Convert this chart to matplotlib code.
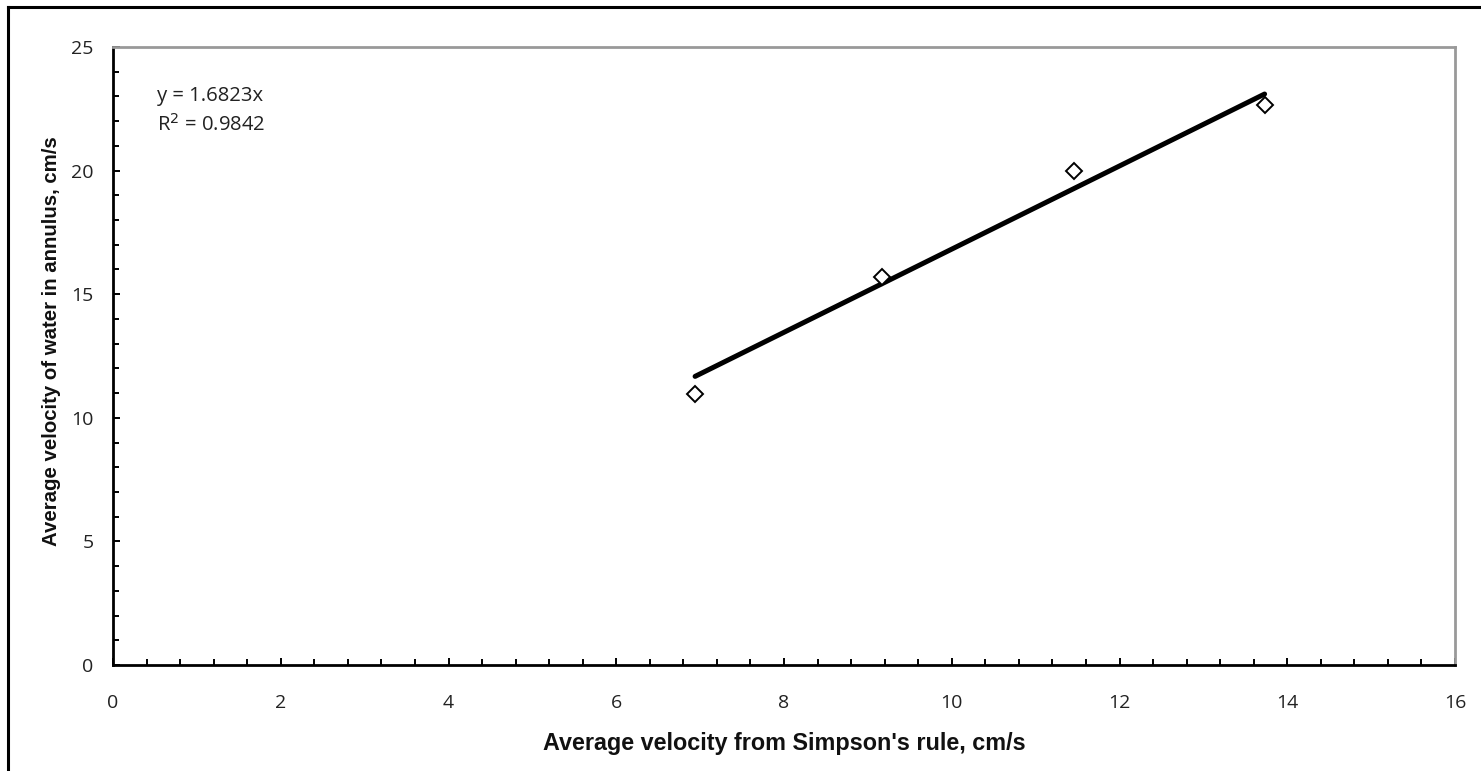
import matplotlib.pyplot as plt
from matplotlib.lines import Line2D
from matplotlib.ticker import MultipleLocator

simpson_v = [6.94, 9.17, 11.46, 13.73]
annulus_v = [10.98, 15.70, 19.97, 22.66]

# Excel trendline (forced through origin)
slope = 1.6823
r_squared = 0.9842

W, H = 1481, 771
fig = plt.figure(figsize=(W / 100, H / 100), dpi=100)
ax = fig.add_axes([113 / W, 1 - 665 / H, (1455 - 113) / W, (665 - 47) / H])

x_fit = [min(simpson_v), max(simpson_v)]
y_fit = [slope * v for v in x_fit]
ax.plot(x_fit, y_fit, color='black', lw=3.6, solid_capstyle='round', zorder=2)
ax.plot(simpson_v, annulus_v, ls='none', marker='D', ms=8.5, mfc='white',
        mec='black', mew=1.4, zorder=3)

ax.set_xlim(0, 16)
ax.set_ylim(0, 25)
ax.xaxis.set_major_locator(MultipleLocator(2))
ax.xaxis.set_minor_locator(MultipleLocator(0.4))
ax.yaxis.set_major_locator(MultipleLocator(5))
ax.yaxis.set_minor_locator(MultipleLocator(1))

tick_font = 'Open Sans'
ax.tick_params(which='both', direction='in', color='black', width=1.4,
               labelsize=14)
ax.tick_params(which='major', length=5)
ax.tick_params(which='minor', length=4)
ax.tick_params(axis='x', pad=21)
ax.tick_params(axis='y', pad=14)
for lbl in ax.get_xticklabels() + ax.get_yticklabels():
    lbl.set_fontfamily(tick_font)
    lbl.set_color('#222222')

for side in ['left', 'bottom']:
    ax.spines[side].set_color('black')
    ax.spines[side].set_linewidth(2)
for side in ['top', 'right']:
    ax.spines[side].set_color('#999999')
    ax.spines[side].set_linewidth(2)

label_kw = dict(fontfamily='Liberation Sans', fontweight='bold', color='#111111')
ax.set_xlabel("Average velocity from Simpson's rule, cm/s", fontsize=16.8, **label_kw)
ax.set_ylabel('Average velocity of water in annulus, cm/s', fontsize=14.7, **label_kw)
ax.xaxis.set_label_coords(0.5, -0.108)
ax.yaxis.set_label_coords(-0.039, 0.524)

ax.text(0.033, 0.921, f'y = {slope:.4f}x', transform=ax.transAxes,
        fontfamily=tick_font, fontsize=14.6, color='#222222', va='center')
ax.text(0.033, 0.874, f'R$^2$ = {r_squared:.4f}', transform=ax.transAxes,
        fontfamily=tick_font, fontsize=14.6, color='#222222', va='center')

# outer chart border (left and top edges visible)
fig.add_artist(Line2D([8 / W, 8 / W], [0, 1 - 7 / H], color='black', lw=2.2))
fig.add_artist(Line2D([8 / W, 1], [1 - 7 / H, 1 - 7 / H], color='black', lw=2.2))

fig.savefig('out.png', dpi=100, facecolor='white')
